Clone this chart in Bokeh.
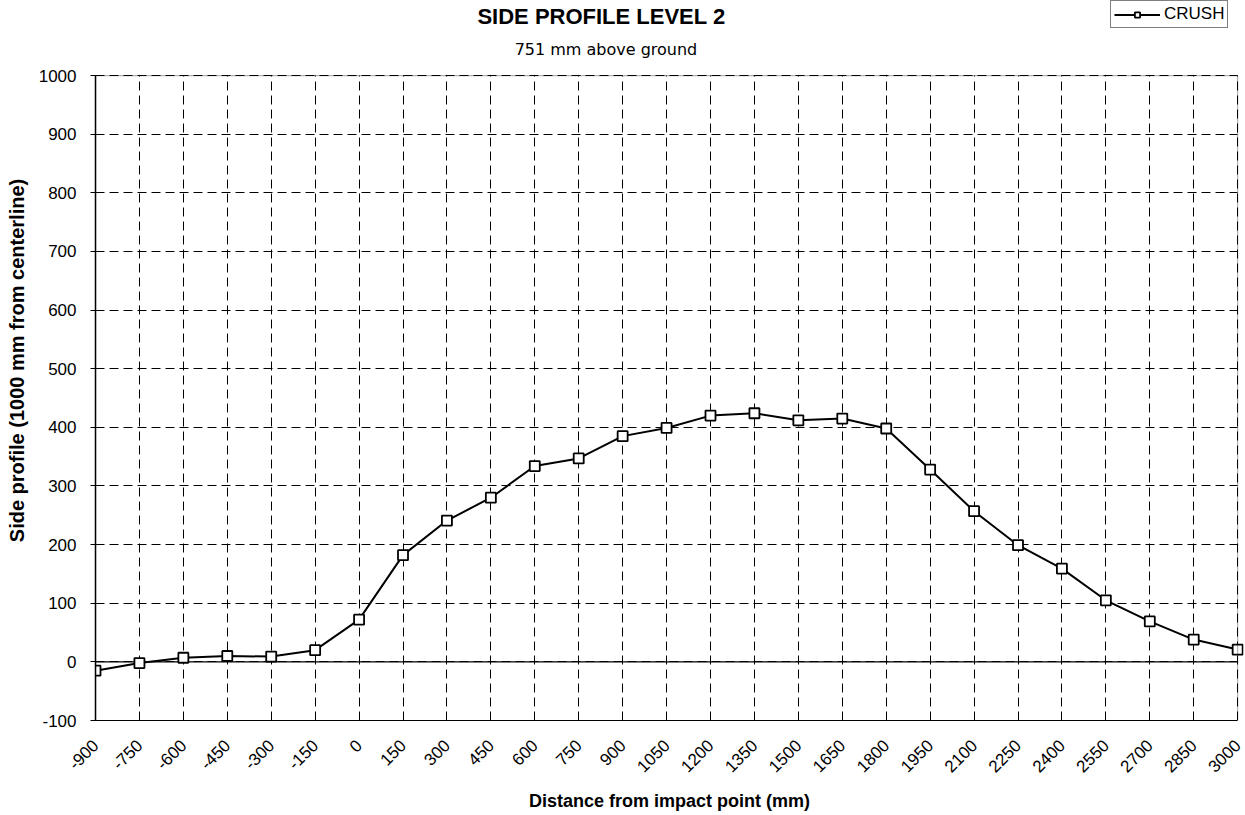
import math
from bokeh.plotting import figure
from bokeh.models import (Range1d, FixedTicker, Legend, LegendItem, Label,
                          BoxAnnotation)
from bokeh.embed import file_html
from bokeh.resources import INLINE

# ---- data ----
distance_mm = [-900, -750, -600, -450, -300, -150, 0, 150, 300, 450, 600, 750, 900,
               1050, 1200, 1350, 1500, 1650, 1800, 1950, 2100, 2250, 2400, 2550,
               2700, 2850, 3000]
x_tick_labels = ["-900", "-750", "-600", "-450", "-300", "-150", "0", "150", "300",
                 "450", "600", "750", "900", "1050", "1200", "1350", "1500", "1650",
                 "1800", "1950", "2100", "2250", "2400", "2550", "2700", "2850", "3000"]
crush = [-15, -2, 7, 10, 9, 20, 72, 182, 241, 280, 334, 347, 385,
         399, 420, 424, 412, 415, 398, 328, 257, 199, 159, 105,
         69, 38, 21]
y_ticks = [-100, 0, 100, 200, 300, 400, 500, 600, 700, 800, 900, 1000]
y_tick_labels = ["-100", "0", "100", "200", "300", "400", "500", "600", "700",
                 "800", "900", "1000"]

title_text = "SIDE PROFILE LEVEL 2"
subtitle_text = "751  mm above ground"
series_name = "CRUSH"

FONT = "Liberation Sans"

X_MIN, X_MAX = distance_mm[0], distance_mm[-1]
Y_MIN, Y_MAX = y_ticks[0], y_ticks[-1]
# the frame is extended upward (heading area) and a little to the right (end marker)
Y_VIEW_TOP = 1128
X_VIEW_RIGHT = 3020

p = figure(width=1244, height=814,
           x_range=Range1d(X_MIN, X_VIEW_RIGHT), y_range=Range1d(Y_MIN, Y_VIEW_TOP),
           output_backend="svg", toolbar_location=None, title=None,
           min_border_left=95, min_border_right=1, min_border_top=0,
           min_border_bottom=94)

p.background_fill_color = "white"
p.border_fill_color = "white"
p.outline_line_color = None

# grids (restricted to the plot area)
for g in (p.xgrid, p.ygrid):
    g.grid_line_color = "black"
    g.grid_line_dash = "9 5"
    g.grid_line_width = 1
p.xgrid.ticker = FixedTicker(ticks=distance_mm)
p.ygrid.ticker = FixedTicker(ticks=y_ticks)
p.xgrid.bounds = (X_MIN, X_MAX)
p.xgrid.cross_bounds = (Y_MIN, Y_MAX)
p.ygrid.bounds = (Y_MIN, Y_MAX)
p.ygrid.cross_bounds = (X_MIN, X_MAX)

# plot-area border
p.add_layout(BoxAnnotation(left=X_MIN, right=X_MAX, bottom=Y_MIN, top=Y_MAX,
                           fill_alpha=0, line_color="black", line_width=1.2,
                           level="overlay"))

# x axis
p.xaxis.ticker = FixedTicker(ticks=distance_mm)
p.xaxis.bounds = (X_MIN, X_MAX)
p.xaxis.major_label_overrides = {v: s for v, s in zip(distance_mm, x_tick_labels)}
p.xaxis.major_label_orientation = math.pi / 4
p.xaxis.major_tick_out = 0
p.xaxis.major_tick_in = 0
p.xaxis.minor_tick_line_color = None
p.xaxis.axis_line_color = "black"
p.xaxis.major_label_text_font = FONT
p.xaxis.major_label_text_font_size = "17px"
p.xaxis.major_label_text_color = "black"
p.xaxis.major_label_standoff = 22
p.xaxis.axis_label = "Distance from impact point (mm)"
p.xaxis.axis_label_text_font = FONT
p.xaxis.axis_label_text_font_style = "bold"
p.xaxis.axis_label_text_font_size = "18px"
p.xaxis.axis_label_text_color = "black"
p.xaxis.axis_label_standoff = 10

# y axis
p.yaxis.ticker = FixedTicker(ticks=y_ticks)
p.yaxis.bounds = (Y_MIN, Y_MAX)
p.yaxis.major_label_overrides = {v: s for v, s in zip(y_ticks, y_tick_labels)}
p.yaxis.major_tick_out = 5
p.yaxis.major_tick_in = 5
p.yaxis.minor_tick_line_color = None
p.yaxis.axis_line_color = "black"
p.yaxis.axis_line_width = 1.5
p.yaxis.major_label_text_font = FONT
p.yaxis.major_label_text_font_size = "17px"
p.yaxis.major_label_text_color = "black"
p.yaxis.major_label_standoff = 14
p.yaxis.axis_label = "Side profile (1000 mm from centerline)"
p.yaxis.axis_label_text_font = FONT
p.yaxis.axis_label_text_font_style = "bold"
p.yaxis.axis_label_text_font_size = "20px"
p.yaxis.axis_label_text_color = "black"
p.yaxis.axis_label_standoff = 8

# zero line across the plot area
p.segment(x0=[X_MIN], y0=[0], x1=[X_MAX], y1=[0], line_color="black", line_width=1.2)

# series
line_r = p.line(distance_mm, crush, line_color="black", line_width=2)
mark_r = p.scatter(distance_mm, crush, marker="square", size=10,
                   fill_color="white", line_color="black", line_width=1.8)

legend = Legend(items=[LegendItem(label=series_name, renderers=[line_r, mark_r])],
                location=(1015, 692), orientation="vertical",
                border_line_color="black", border_line_width=1.2,
                background_fill_color="white", background_fill_alpha=1,
                label_text_font=FONT, label_text_font_size="17px",
                label_text_color="black", glyph_width=46, glyph_height=13,
                label_height=13, label_standoff=4, padding=3, spacing=0, margin=0)
p.add_layout(legend, "center")

# heading texts (screen units, relative to the plot frame)
p.add_layout(Label(x=506, y=704, x_units="screen", y_units="screen",
                   text=title_text, text_font=FONT, text_font_style="bold",
                   text_font_size="22px", text_color="black",
                   text_align="center", text_baseline="middle"))
p.add_layout(Label(x=513, y=671, x_units="screen", y_units="screen",
                   text=subtitle_text, text_font="DejaVu Sans",
                   text_font_size="16px", text_color="black",
                   text_align="center", text_baseline="middle"))

open("out.html", "w").write(file_html(p, INLINE))
